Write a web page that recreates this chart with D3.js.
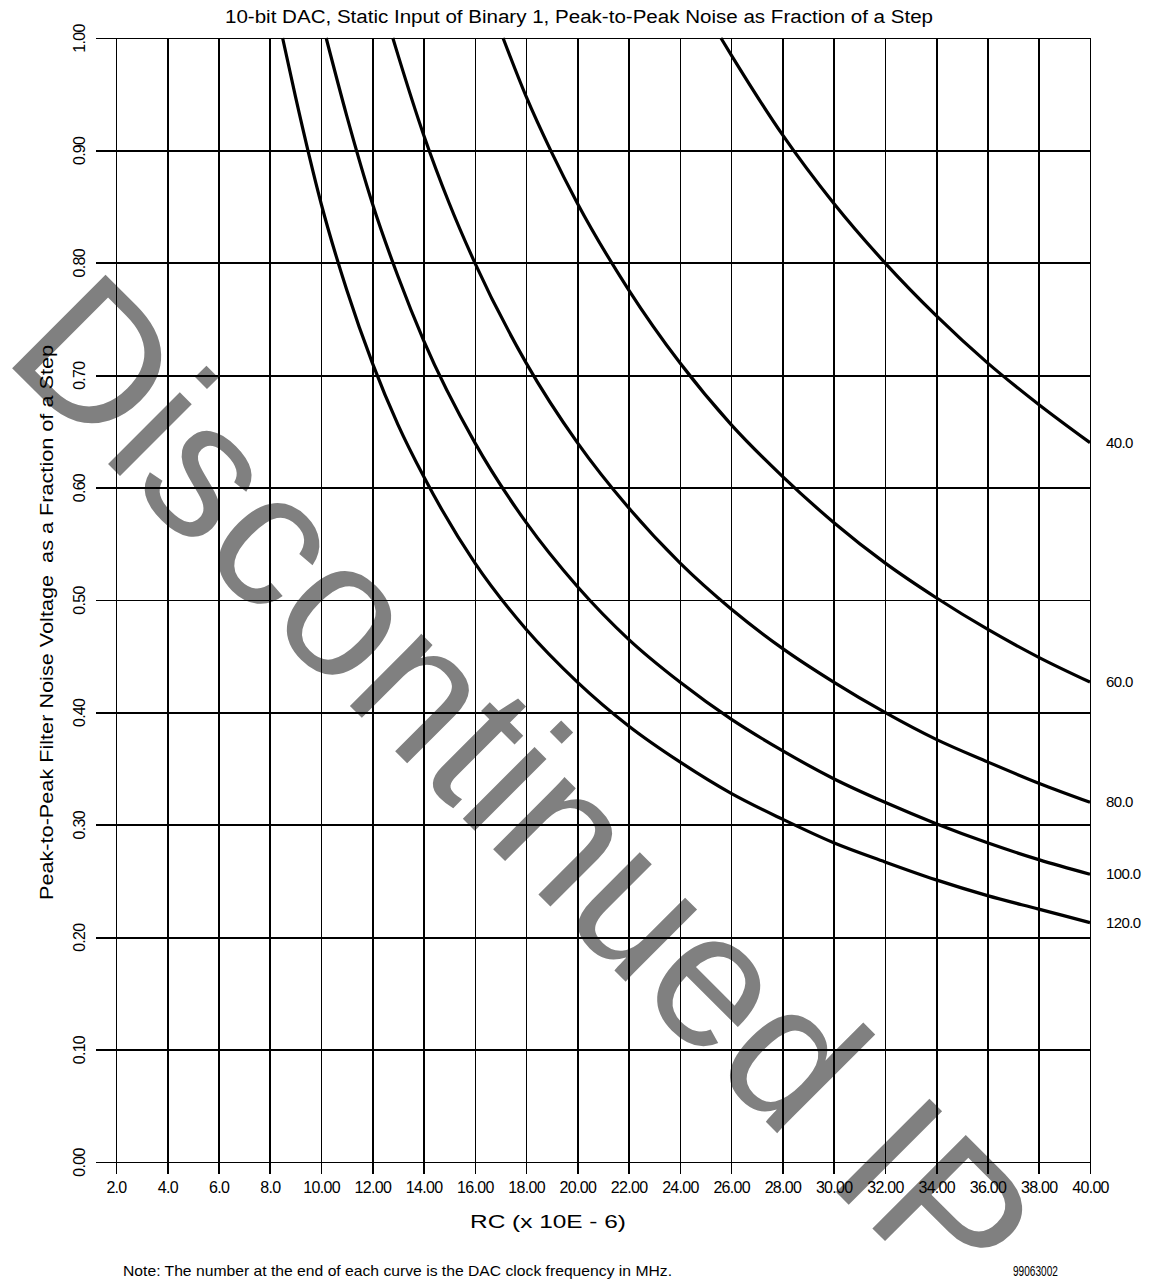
<!DOCTYPE html>
<html lang="en">
<head>
<meta charset="UTF-8">
<title>10-bit DAC, Peak-to-Peak Noise</title>
<script src="https://d3js.org/d3.v7.min.js"></script>
<style>
  body { margin: 0; background: #fff; }
  svg { display: block; font-family: Arial, "Liberation Sans", sans-serif; }
  .grid line { stroke: #000; stroke-width: 1.6px; shape-rendering: crispEdges; }
  .grid text { fill: #000; font-size: 16px; }
  .curve { fill: none; stroke: #000; stroke-width: 3.2px; }
</style>
</head>
<body>
<div id="chart"></div>
<script>
// ---------------- data ----------------
const xTicks = [2, 4, 6, 8, 10, 12, 14, 16, 18, 20, 22, 24, 26, 28, 30, 32, 34, 36, 38, 40];
const xTickLabels = ["2.0", "4.0", "6.0", "8.0", "10.00", "12.00", "14.00", "16.00", "18.00", "20.00",
  "22.00", "24.00", "26.00", "28.00", "30.00", "32.00", "34.00", "36.00", "38.00", "40.00"];
const yTicks = [0, 0.1, 0.2, 0.3, 0.4, 0.5, 0.6, 0.7, 0.8, 0.9, 1.0];
const yTickLabels = ["0.00", "0.10", "0.20", "0.30", "0.40", "0.50", "0.60", "0.70", "0.80", "0.90", "1.00"];

const freqLabels = ["40.0", "60.0", "80.0", "100.0", "120.0"];

const rc40 = [25.6, 26, 28, 30, 32, 34, 36, 38, 40];
const noise40 = [1.000, 0.985, 0.914, 0.853, 0.800, 0.753, 0.711, 0.674, 0.640];

const rc60 = [17.1, 18, 19, 20, 22, 24, 26, 28, 30, 32, 34, 36, 38, 40];
const noise60 = [1.000, 0.948, 0.898, 0.853, 0.776, 0.711, 0.656, 0.610, 0.569, 0.533, 0.502, 0.474, 0.449, 0.427];

const rc80 = [12.8, 13, 14, 15, 16, 18, 20, 22, 24, 26, 28, 30, 32, 34, 36, 38, 40];
const noise80 = [1.000, 0.985, 0.914, 0.853, 0.800, 0.711, 0.640, 0.582, 0.533, 0.492, 0.457, 0.427, 0.400, 0.376, 0.356, 0.337, 0.320];

const rc100 = [10.2, 11, 12, 13, 14, 16, 18, 20, 22, 24, 26, 28, 30, 32, 34, 36, 38, 40];
const noise100 = [1.000, 0.931, 0.853, 0.788, 0.731, 0.640, 0.569, 0.512, 0.465, 0.427, 0.394, 0.366, 0.341, 0.320, 0.301, 0.284, 0.269, 0.256];

const rc120 = [8.5, 9, 10, 11, 12, 13, 14, 16, 18, 20, 22, 24, 26, 28, 30, 32, 34, 36, 38, 40];
const noise120 = [1.000, 0.948, 0.853, 0.776, 0.711, 0.656, 0.610, 0.533, 0.474, 0.427, 0.388, 0.356, 0.328, 0.305, 0.284, 0.267, 0.251, 0.237, 0.225, 0.213];

// ---------------- setup ----------------
const W = 1158, H = 1287;
const plot = { left: 116, right: 1090, top: 38, bottom: 1162 };

const svg = d3.select("#chart").append("svg")
  .attr("width", W).attr("height", H);

const x = d3.scaleLinear().domain([2, 40]).range([plot.left, plot.right]);
const y = d3.scaleLinear().domain([0, 1]).range([plot.bottom, plot.top]);

// watermark sits behind the chart
svg.append("text")
  .attr("transform", "translate(1,357) rotate(45)")
  .attr("font-size", 192)
  .attr("fill", "#808080")
  .style("font-family", "'Liberation Sans', Arial, sans-serif")
  .text("Discontinued IP");

// ---------------- axes / grid ----------------
const xAxis = svg.append("g").attr("class", "grid")
  .attr("transform", `translate(0,${plot.bottom + 12})`)
  .call(d3.axisBottom(x)
    .tickValues(xTicks)
    .tickSize(-(plot.bottom + 12 - plot.top))
    .tickPadding(8)
    .tickFormat((d, i) => xTickLabels[i]));
xAxis.select(".domain").remove();
xAxis.selectAll("text").style("letter-spacing", "-0.7px");

const yAxis = svg.append("g").attr("class", "grid")
  .attr("transform", `translate(${plot.left - 20},0)`)
  .call(d3.axisLeft(y)
    .tickValues(yTicks)
    .tickSize(-(plot.right - plot.left + 20))
    .tickFormat((d, i) => yTickLabels[i]));
yAxis.select(".domain").remove();
yAxis.selectAll("text")
  .attr("x", 0).attr("dy", null)
  .attr("text-anchor", "middle")
  .attr("transform", "translate(-17,0) rotate(-90) translate(0,6)")
  .style("letter-spacing", "-0.7px");

// ---------------- curves ----------------
const curves = [
  { label: freqLabels[0], rc: rc40, v: noise40 },
  { label: freqLabels[1], rc: rc60, v: noise60 },
  { label: freqLabels[2], rc: rc80, v: noise80 },
  { label: freqLabels[3], rc: rc100, v: noise100 },
  { label: freqLabels[4], rc: rc120, v: noise120 }
];

const line = d3.line()
  .x(d => x(d[0]))
  .y(d => y(d[1]))
  .curve(d3.curveMonotoneX);

curves.forEach(c => {
  const pts = c.rc.map((r, i) => [r, c.v[i]]);
  svg.append("path").attr("class", "curve").attr("d", line(pts));
  const last = pts[pts.length - 1];
  svg.append("text")
    .attr("x", plot.right + 16)
    .attr("y", y(last[1]) + 5)
    .attr("font-size", 15)
    .style("letter-spacing", "-0.6px")
    .text(c.label);
});

// ---------------- titles ----------------
svg.append("text")
  .attr("x", 225).attr("y", 23)
  .attr("font-size", 18)
  .attr("textLength", 708)
  .attr("lengthAdjust", "spacingAndGlyphs")
  .text("10-bit DAC, Static Input of Binary 1, Peak-to-Peak Noise as Fraction of a Step");

svg.append("text")
  .attr("transform", "translate(53,900) rotate(-90)")
  .attr("font-size", 18)
  .attr("textLength", 555)
  .attr("lengthAdjust", "spacingAndGlyphs")
  .style("white-space", "pre")
  .text("Peak-to-Peak Filter Noise Voltage  as a Fraction of a Step");

svg.append("text")
  .attr("x", 470).attr("y", 1228)
  .attr("font-size", 18)
  .attr("textLength", 156)
  .attr("lengthAdjust", "spacingAndGlyphs")
  .text("RC (x 10E - 6)");

svg.append("text")
  .attr("x", 123).attr("y", 1276)
  .attr("font-size", 15)
  .attr("textLength", 549)
  .attr("lengthAdjust", "spacingAndGlyphs")
  .text("Note: The number at the end of each curve is the DAC clock frequency in MHz.");

svg.append("text")
  .attr("x", 1013).attr("y", 1276)
  .attr("font-size", 15)
  .attr("textLength", 45)
  .attr("lengthAdjust", "spacingAndGlyphs")
  .text("99063002");
</script>
</body>
</html>
